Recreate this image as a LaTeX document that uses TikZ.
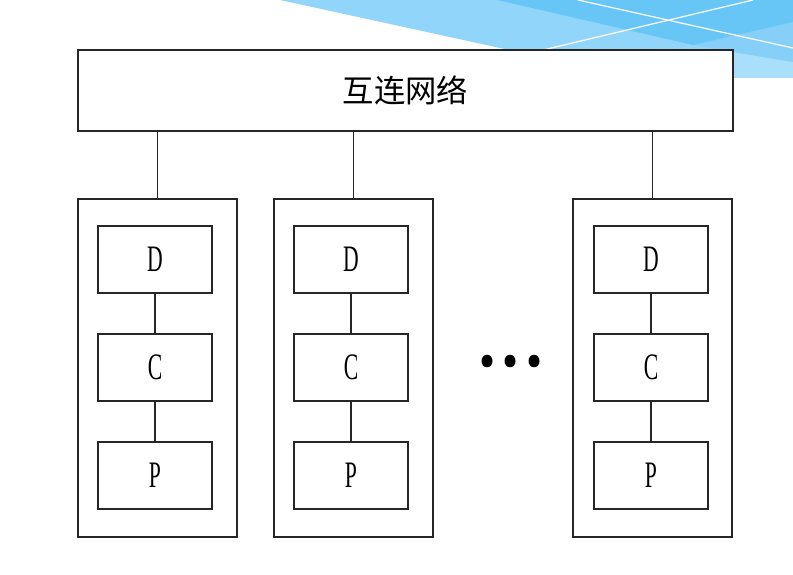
\documentclass[tikz,border=0pt]{standalone}
\usepackage{fontspec}
\setmainfont{Liberation Serif}
\newfontfamily\cjk{Noto Sans CJK SC}
\newfontfamily\letterfont[FakeStretch=0.58]{Liberation Serif}
\begin{document}
\begin{tikzpicture}[x=0.75pt,y=-0.75pt,
  box/.style={draw=black!85, line width=0.8pt, fill=white, inner sep=0pt},
  outerbox/.style={box, minimum width=159*0.75pt, minimum height=338*0.75pt},
  innerbox/.style={box, minimum width=114*0.75pt, minimum height=67*0.75pt,
     font=\letterfont\fontsize{28pt}{30pt}\selectfont},
  link/.style={draw=black!85, line width=0.8pt},
  wline/.style={draw=white, line width=0.9pt}]
\useasboundingbox (0,0) rectangle (793,575);
\fill[white] (0,0) rectangle (793,575);
% background decoration
\fill[color={rgb,255:red,170;green,223;blue,251}] (700,40) -- (793,40) -- (793,78) -- (700,78) -- cycle;
\fill[color={rgb,255:red,146;green,213;blue,250}] (280,0) -- (793,0) -- (793,62) -- (733,52) -- (733,70) -- (601,70) -- cycle;
\fill[color={rgb,255:red,133;green,207;blue,248}] (693,45) -- (793,22) -- (793,62) -- cycle;
\fill[color={rgb,255:red,104;green,198;blue,247}] (497,0) -- (793,0) -- (793,22) -- (693,45) -- cycle;
\draw[wline] (578,0) -- (793,48);
\draw[wline] (753,0) -- (543,50);
% network
\node[box, minimum width=655*0.75pt, minimum height=81*0.75pt,
      font=\cjk\fontsize{23.5pt}{26pt}\selectfont] (net) at (405.5,90.5) {互连网络};
% columns
\node[outerbox] (o1) at (157.5,368) {};
\node[outerbox] (o2) at (353.5,368) {};
\node[outerbox] (o3) at (652.5,368) {};
\node[innerbox] (d1) at (155,259.5) {D};
\node[innerbox] (c1) at (155,367.5) {C};
\node[innerbox] (p1) at (155,475.5) {P};
\node[innerbox] (d2) at (351,259.5) {D};
\node[innerbox] (c2) at (351,367.5) {C};
\node[innerbox] (p2) at (351,475.5) {P};
\node[innerbox] (d3) at (651,259.5) {D};
\node[innerbox] (c3) at (651,367.5) {C};
\node[innerbox] (p3) at (651,475.5) {P};
% connectors
\foreach \o in {o1,o2,o3} {\draw[link] (net.south -| \o.north) -- (\o.north);}
\foreach \i in {1,2,3} {
  \draw[link] (d\i) -- (c\i);
  \draw[link] (c\i) -- (p\i);
}
% ellipsis dots
\foreach \xx in {487,510,534} {\fill[black] (\xx,361) ellipse [x radius=5.5, y radius=6.3];}
\end{tikzpicture}
\end{document}
